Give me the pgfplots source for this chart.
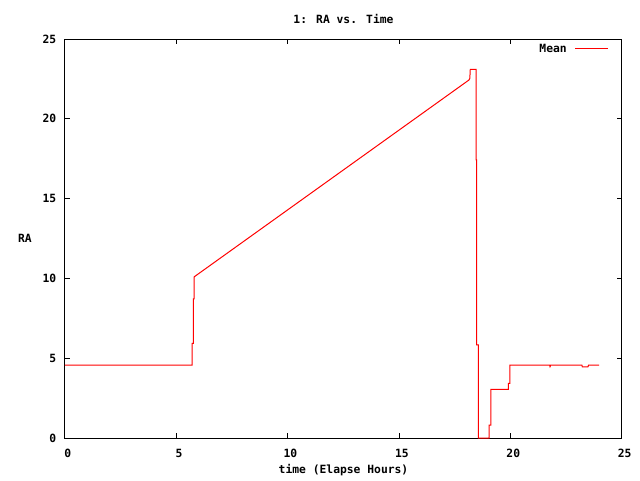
\documentclass[border=0pt]{standalone}
\usepackage{fontspec}
\setmainfont{DejaVu Sans Mono}[BoldFont={DejaVu Sans Mono Bold}]
\usepackage{pgfplots}
\pgfplotsset{compat=1.18}
\begin{document}
\begin{tikzpicture}
\path[use as bounding box] (0,0) rectangle (480pt,360pt);
\begin{axis}[
  at={(48.75pt,31.5pt)}, anchor=south west,
  scale only axis, width=417.75pt, height=299.25pt,
  xmin=0, xmax=25, ymin=0, ymax=25,
  xtick={0,5,...,25}, ytick={0,5,...,25},
  minor tick num=0,
  tick align=inside, major tick length=3.75pt,
  axis line style={line width=0.75pt},
  every tick/.style={black, line width=0.75pt},
  font=\fontsize{8.5}{10}\selectfont\bfseries,
  /pgf/number format/assume math mode=true,
  xticklabel style={yshift=-5pt, xshift=2pt},
  yticklabel style={xshift=-3pt},
  title={1: RA vs. Time},
  title style={at={(axis description cs:0.5,1.050)}, anchor=center, yshift=-6pt},
  xlabel={time (Elapse Hours)},
  xlabel style={at={(axis description cs:0.5,-0.080)}, anchor=center},
  ylabel={RA},
  ylabel style={at={(axis description cs:-0.072,0.5)}, rotate=-90, anchor=center},
  legend plot pos=right,
  legend image code/.code={\draw[#1] (0pt,0pt) -- (24.75pt,0pt);},
  legend style={at={(0.9767,0.975)}, anchor=east, draw=none, fill=none,
    inner sep=0pt, column sep=6pt, nodes={inner sep=0pt}},
]
\addplot[red, line width=0.75pt, line join=miter] coordinates {
(0,4.57) (5.71,4.57) (5.71,5.93) (5.76,5.93) (5.76,8.71) (5.80,8.71) (5.80,10.10)
(18.13,22.43) (18.17,22.54) (18.19,23.10) (18.45,23.10)
(18.45,17.42) (18.48,17.42) (18.48,5.83) (18.55,5.83) (18.55,0)
(19.04,0) (19.04,0.81) (19.11,0.81) (19.11,3.05) (19.90,3.05)
(19.90,3.43) (19.97,3.43) (19.97,4.57)
(21.75,4.57) (21.77,4.47) (21.80,4.57)
(23.20,4.57) (23.22,4.45) (23.47,4.45) (23.50,4.57) (23.97,4.57)
};
\addlegendentry{Mean}
\end{axis}
\end{tikzpicture}
\end{document}
